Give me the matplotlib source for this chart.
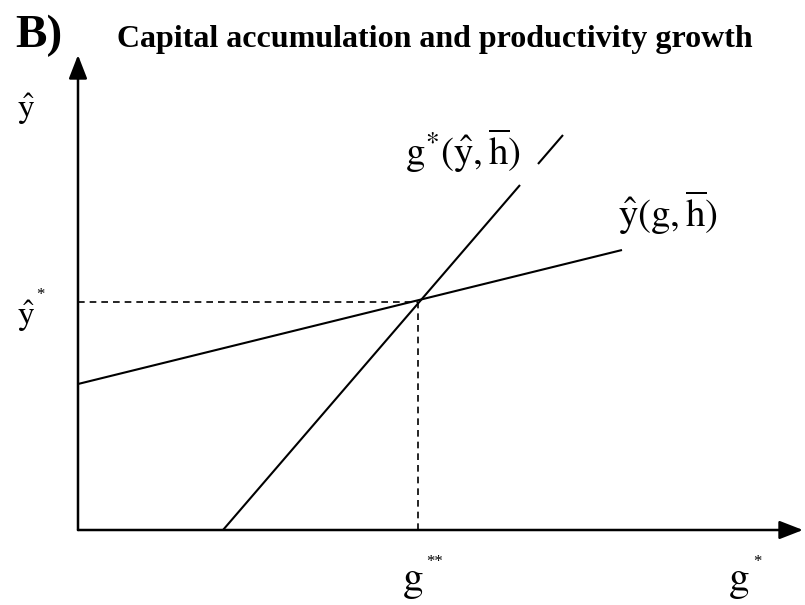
import matplotlib
matplotlib.use("Agg")
import matplotlib.pyplot as plt

plt.rcParams["mathtext.fontset"] = "stix"
plt.rcParams["font.family"] = ["Liberation Serif", "DejaVu Serif"]

# Productivity-growth schedule  y_hat(g, h_bar)
yhat_g = [0.0, 5.44]
yhat_y = [1.46, 2.80]

# Capital-accumulation schedule  g*(y_hat, h_bar), drawn in two pieces around its label
gstar_low_g = [1.45, 4.42]
gstar_low_y = [0.0, 3.45]
gstar_up_g = [4.60, 4.85]
gstar_up_y = [3.66, 3.95]

# Equilibrium
g_eq = 3.40
y_eq = 2.28

# Axis extents
x_end = 7.25
y_end = 4.75

fig = plt.figure(figsize=(8.05, 6.05), dpi=100)
ax = fig.add_axes([0, 0, 1, 1])
ax.set_xlim(-0.78, 7.27)
ax.set_ylim(-0.75, 5.30)
ax.axis("off")

arrow_kw = dict(arrowstyle="-|>,head_length=0.9,head_width=0.35",
                color="black", lw=1.8, mutation_scale=16,
                shrinkA=0, shrinkB=0)
ax.annotate("", xy=(0, y_end), xytext=(0, 0), arrowprops=arrow_kw)
ax.annotate("", xy=(x_end, 0), xytext=(0, 0), arrowprops=arrow_kw)

line_kw = dict(color="black", lw=1.5, solid_capstyle="butt")
ax.plot(yhat_g, yhat_y, **line_kw)
ax.plot(gstar_low_g, gstar_low_y, **line_kw)
ax.plot(gstar_up_g, gstar_up_y, **line_kw)

dash_kw = dict(color="black", lw=1.2, dashes=(4, 3))
ax.plot([0, g_eq], [y_eq, y_eq], **dash_kw)
ax.plot([g_eq, g_eq], [0, y_eq], **dash_kw)

# Panel letter and title
ax.text(-0.63, 4.83, "B)", fontsize=34, fontweight="bold", ha="left", va="baseline")
ax.text(0.39, 4.83, "Capital accumulation and productivity growth",
        fontsize=23, fontweight="bold", ha="left", va="baseline")

# Axis labels
ax.text(-0.61, 4.12, r"$\hat{\mathrm{y}}$", fontsize=24, ha="left", va="baseline")
ax.text(-0.61, 2.05, r"$\hat{\mathrm{y}}$", fontsize=24, ha="left", va="baseline")
ax.text(-0.38, 2.35, "*", fontsize=12, ha="center", va="center")
ax.text(3.24, -0.60, r"$\mathrm{g}$", fontsize=30, ha="left", va="baseline")
ax.text(3.57, -0.32, "**", fontsize=12, ha="center", va="center")
ax.text(6.50, -0.60, r"$\mathrm{g}$", fontsize=30, ha="left", va="baseline")
ax.text(6.79, -0.32, "*", fontsize=12, ha="center", va="center")

# Curve labels
ax.text(3.27, 3.65, r"$\mathrm{g}^{*}(\hat{\mathrm{y}},\overline{\mathrm{h}})$",
        fontsize=28, ha="left", va="baseline")
ax.text(5.40, 3.03, r"$\hat{\mathrm{y}}(\mathrm{g},\overline{\mathrm{h}})$",
        fontsize=28, ha="left", va="baseline")

fig.savefig("out.png", dpi=100, facecolor="white")
